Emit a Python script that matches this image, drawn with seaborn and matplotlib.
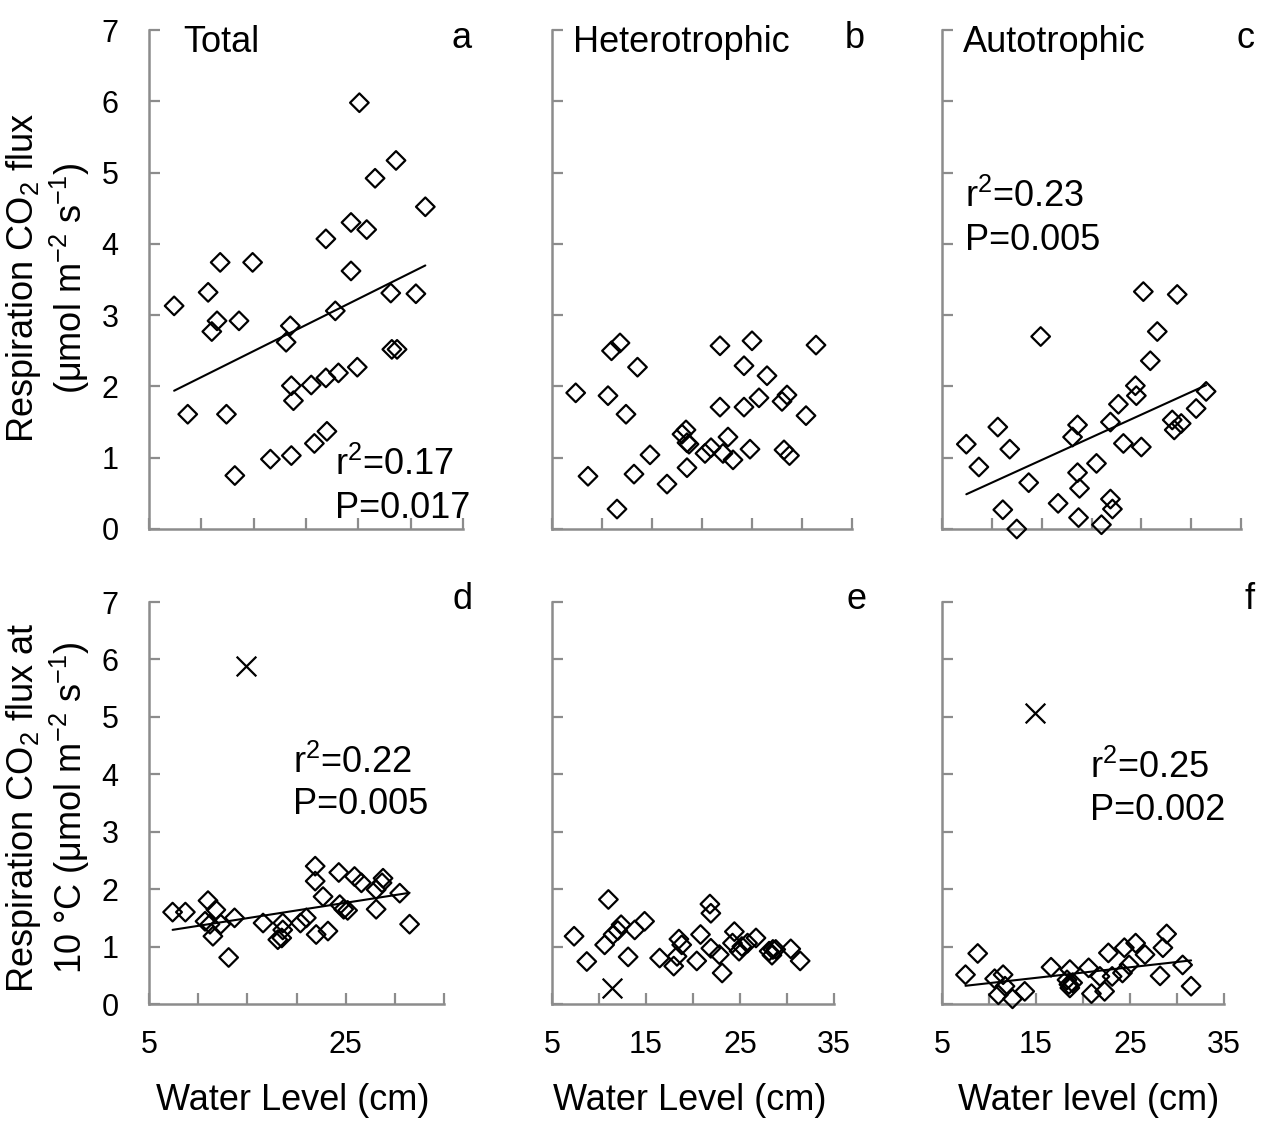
import matplotlib
matplotlib.use("Agg")
import matplotlib.pyplot as plt
import seaborn as sns

# water level (cm) and respiration flux
a_x = [7.4, 8.7, 10.65, 11.8, 11.5, 11.0, 12.4, 13.6, 14.9, 13.2, 16.6, 18.1, 18.5, 18.6, 18.8, 18.6, 20.5, 20.8,
       22.0, 21.9, 21.9, 22.8, 23.1, 24.3, 24.3, 24.9, 25.1, 25.8, 26.6, 28.1, 28.2, 28.7, 28.6, 30.5, 31.4]
a_y = [3.13, 1.61, 3.32, 3.74, 2.92, 2.77, 1.61, 2.92, 3.74, 0.75, 0.98, 2.62, 2.85, 2.01, 1.80, 1.03, 2.02, 1.20,
       1.37, 2.12, 4.07, 3.06, 2.19, 3.62, 4.30, 2.27, 5.98, 4.20, 4.92, 3.31, 2.52, 2.52, 5.17, 3.30, 4.52]

b_x = [7.37, 8.6, 10.6, 10.95, 11.8, 11.5, 12.4, 13.55, 13.2, 14.8, 16.5, 18.0, 18.4, 18.5, 18.7, 18.5, 20.3, 20.9,
       21.8, 21.8, 22.1, 22.6, 23.1, 24.2, 24.2, 25.0, 24.8, 25.7, 26.5, 28.0, 28.5, 28.2, 28.75, 30.4, 31.4]
b_y = [1.91, 0.74, 1.87, 2.50, 2.61, 0.28, 1.61, 2.27, 0.77, 1.04, 0.63, 1.33, 1.39, 1.21, 1.19, 0.86, 1.06, 1.14,
       2.57, 1.71, 1.06, 1.29, 0.97, 2.29, 1.71, 2.64, 1.12, 1.84, 2.15, 1.79, 1.88, 1.11, 1.03, 1.59, 2.58]

c_x = [7.44, 8.7, 10.6, 11.1, 11.8, 12.5, 13.7, 14.9, 16.65, 18.1, 18.6, 18.6, 18.8, 18.7, 20.5, 21.0, 21.9,
       21.9, 22.1, 22.7, 23.2, 24.4, 24.5, 25.0, 25.2, 25.9, 26.6, 28.1, 28.3, 29.0, 28.6, 30.5, 31.5]
c_y = [1.19, 0.87, 1.43, 0.27, 1.12, 0.00, 0.65, 2.70, 0.36, 1.29, 1.46, 0.79, 0.57, 0.16, 0.92, 0.06, 1.50,
       0.42, 0.28, 1.75, 1.20, 2.01, 1.87, 1.15, 3.33, 2.36, 2.77, 1.53, 1.39, 1.48, 3.29, 1.69, 1.93]

d_x = [7.4, 8.7, 11.0, 11.8, 10.7, 11.2, 11.5, 12.3, 13.7, 13.1, 16.6, 18.1, 18.5, 18.6, 18.6, 20.4, 21.0, 21.9,
       21.9, 22.0, 22.7, 23.2, 24.3, 24.4, 24.8, 25.2, 25.9, 26.6, 28.1, 28.1, 28.7, 28.8, 30.5, 31.5]
d_y = [1.60, 1.60, 1.80, 1.64, 1.44, 1.39, 1.18, 1.39, 1.50, 0.81, 1.41, 1.12, 1.15, 1.41, 1.29, 1.41, 1.50, 2.40,
       2.14, 1.21, 1.87, 1.27, 2.29, 1.73, 1.65, 1.63, 2.22, 2.11, 1.65, 1.99, 2.11, 2.19, 1.93, 1.39]
d_out_x = [14.9]
d_out_y = [5.89]

e_x = [7.35, 8.7, 11.0, 10.6, 11.5, 12.0, 12.35, 13.1, 13.8, 14.85, 16.45, 17.95, 18.3, 18.5, 18.8, 20.4, 20.8,
       21.8, 21.9, 21.9, 22.8, 23.1, 24.4, 24.2, 24.9, 25.2, 25.8, 26.7, 28.1, 28.5, 28.4, 28.8, 30.4, 31.4]
e_y = [1.18, 0.74, 1.82, 1.03, 1.21, 1.28, 1.38, 0.82, 1.29, 1.44, 0.80, 0.66, 0.83, 1.13, 1.03, 0.75, 1.21,
       1.74, 1.58, 0.97, 0.86, 0.54, 1.26, 1.06, 0.92, 1.00, 1.06, 1.15, 0.92, 0.95, 0.85, 0.95, 0.96, 0.75]
e_out_x = [11.35]
e_out_y = [0.28]

f_x = [7.5, 8.8, 10.6, 11.5, 11.0, 11.7, 12.5, 13.8, 16.6, 18.6, 18.3, 18.5, 18.6, 18.9, 20.6, 20.9, 21.8, 22.3,
       22.7, 23.1, 24.2, 24.4, 24.9, 25.6, 26.6, 28.5, 28.2, 28.9, 30.6, 31.5]
f_y = [0.51, 0.88, 0.44, 0.51, 0.16, 0.31, 0.09, 0.22, 0.64, 0.60, 0.42, 0.34, 0.28, 0.37, 0.63, 0.18, 0.48, 0.22,
       0.89, 0.48, 0.54, 0.98, 0.68, 1.06, 0.86, 0.98, 0.49, 1.22, 0.68, 0.31]
f_out_x = [14.9]
f_out_y = [5.06]

x_ticks = [5, 10, 15, 20, 25, 30, 35]
y_ticks = [0, 1, 2, 3, 4, 5, 6, 7]

W, H = 1263, 1124
GREY = "#8c8c8c"

sns.set_style("white")
plt.rcParams["font.family"] = ["Liberation Sans", "DejaVu Sans"]
plt.rcParams["mathtext.fontset"] = "custom"
plt.rcParams["mathtext.rm"] = "Liberation Sans"
plt.rcParams["mathtext.it"] = "Liberation Sans:italic"
plt.rcParams["text.color"] = "black"

fig = plt.figure(figsize=(W / 100, H / 100), dpi=100)


def px_axes(x0, x1, y0, y1):
    return fig.add_axes([x0 / W, 1 - y1 / H, (x1 - x0) / W, (y1 - y0) / H])


def px_text(x, y, s, **kw):
    fig.text(x / W, 1 - y / H, s, **kw)


panels = [
    dict(box=(149, 463, 30, 529), x=a_x, y=a_y, fit=True, ylab=True, xlab=None),
    dict(box=(552, 852, 30, 529), x=b_x, y=b_y, fit=False, ylab=False, xlab=None),
    dict(box=(942, 1241, 30, 529), x=c_x, y=c_y, fit=True, ylab=False, xlab=None),
    dict(box=(149, 444, 602, 1004), x=d_x, y=d_y, fit=True, ylab=True, xlab=[5, 25],
         ox=d_out_x, oy=d_out_y),
    dict(box=(552, 834, 602, 1004), x=e_x, y=e_y, fit=False, ylab=False, xlab=[5, 15, 25, 35],
         ox=e_out_x, oy=e_out_y),
    dict(box=(942, 1224, 602, 1004), x=f_x, y=f_y, fit=True, ylab=False, xlab=[5, 15, 25, 35],
         ox=f_out_x, oy=f_out_y),
]

for p in panels:
    ax = px_axes(*p["box"])
    sns.scatterplot(x=p["x"], y=p["y"], ax=ax, marker="D", s=90, facecolor="none",
                    edgecolor="black", linewidth=1.6, clip_on=False, zorder=3)
    if "ox" in p:
        sns.scatterplot(x=p["ox"], y=p["oy"], ax=ax, marker="x", s=200, color="black",
                        linewidth=1.6, clip_on=False, zorder=3)
    if p["fit"]:
        sns.regplot(x=p["x"], y=p["y"], ax=ax, scatter=False, ci=None, truncate=True,
                    line_kws=dict(color="black", lw=1.5))
    ax.set_xlim(5, 35)
    ax.set_ylim(0, 7)
    ax.set_xticks(x_ticks)
    ax.set_yticks(y_ticks)
    if p["xlab"]:
        ax.set_xticklabels([str(t) if t in p["xlab"] else "" for t in x_ticks])
    else:
        ax.set_xticklabels([])
    if not p["ylab"]:
        ax.set_yticklabels([])
    ax.tick_params(bottom=True, left=True, direction="in", length=8, width=1.6,
                   color=GREY, labelcolor="black", labelsize=22)
    ax.tick_params(axis="x", pad=19)
    ax.tick_params(axis="y", pad=22)
    sns.despine(ax=ax)
    for side in ("left", "bottom"):
        ax.spines[side].set_color(GREY)
        ax.spines[side].set_linewidth(1.8)
    ax.set_facecolor("none")

big = 26
# panel titles
px_text(183, 42, "Total", fontsize=big, va="center")
px_text(573, 42, "Heterotrophic", fontsize=big, va="center")
px_text(963, 42, "Autotrophic", fontsize=big, va="center")

# panel letters
for lx, ly, s in [(462, 38, "a"), (855, 38, "b"), (1246, 38, "c"),
                  (462, 600, "d"), (857, 600, "e"), (1250, 600, "f")]:
    px_text(lx, ly, s, fontsize=big, ha="center", va="center")

# statistics
px_text(335, 465, r"r$^2$=0.17", fontsize=big, va="center")
px_text(335, 508, "P=0.017", fontsize=big, va="center")
px_text(965, 197, r"r$^2$=0.23", fontsize=big, va="center")
px_text(965, 240, "P=0.005", fontsize=big, va="center")
px_text(293, 763, r"r$^2$=0.22", fontsize=big, va="center")
px_text(293, 805, "P=0.005", fontsize=big, va="center")
px_text(1090, 768, r"r$^2$=0.25", fontsize=big, va="center")
px_text(1090, 810, "P=0.002", fontsize=big, va="center")

# axis labels
px_text(48, 278, "Respiration CO$_2$ flux\n(μmol m$^{-2}$ s$^{-1}$)", fontsize=big,
        rotation=90, ha="center", va="center", multialignment="center", linespacing=1.15)
px_text(48, 808, "Respiration CO$_2$ flux at\n10 °C (μmol m$^{-2}$ s$^{-1}$)", fontsize=big,
        rotation=90, ha="center", va="center", multialignment="center", linespacing=1.15)
px_text(293, 1100, "Water Level (cm)", fontsize=big, ha="center", va="center")
px_text(690, 1100, "Water Level (cm)", fontsize=big, ha="center", va="center")
px_text(1089, 1100, "Water level (cm)", fontsize=big, ha="center", va="center")

fig.savefig("out.png", dpi=100, facecolor="white")
